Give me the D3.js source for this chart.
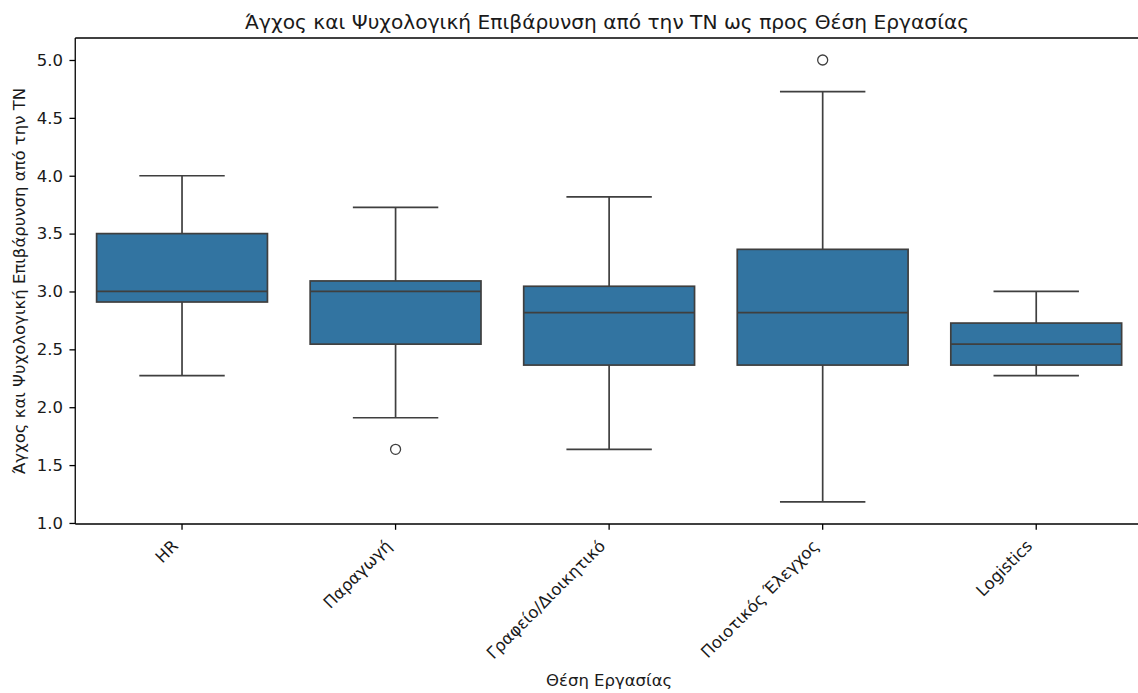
<!DOCTYPE html>
<html>
<head>
<meta charset="utf-8">
<script src="https://cdn.jsdelivr.net/npm/d3@7"></script>
<style>
  html, body { margin: 0; padding: 0; background: #fff; }
  svg text { font-family: "DejaVu Sans", sans-serif; fill: #1a1a1a; }
</style>
</head>
<body>
<svg id="chart" width="1138" height="693"></svg>
<script>
// Job positions and the five-number summaries of the stress score
const categories = ["HR", "Παραγωγή", "Γραφείο/Διοικητικό", "Ποιοτικός Έλεγχος", "Logistics"];
const whiskerLow = [2.273, 1.909, 1.636, 1.182, 2.273];
const q1 = [2.909, 2.545, 2.364, 2.364, 2.364];
const median = [3.0, 3.0, 2.818, 2.818, 2.545];
const q3 = [3.5, 3.091, 3.045, 3.364, 2.727];
const whiskerHigh = [4.0, 3.727, 3.818, 4.727, 3.0];
const outliers = [[], [1.636], [], [5.0], []];
const yTicks = [1.0, 1.5, 2.0, 2.5, 3.0, 3.5, 4.0, 4.5, 5.0];

const titleText = "Άγχος και Ψυχολογική Επιβάρυνση από την ΤΝ ως προς Θέση Εργασίας";
const xLabel = "Θέση Εργασίας";
const yLabel = "Άγχος και Ψυχολογική Επιβάρυνση από την ΤΝ";

(function () {
  const svg = d3.select("#chart");
  const mLeft = 75.25, mRight = 1143, mTop = 38, mBottom = 524;
  const fontSize = 16.5, tickLen = 5.8, lineW = 1.3;

  // each category gets one slot; boxes take 80% of it
  const x = d3.scaleBand().domain(categories).range([mLeft, mRight]).paddingInner(0.2).paddingOuter(0.1);
  const cx = c => x(c) + x.bandwidth() / 2;
  const boxW = x.bandwidth();

  const y = d3.scaleLinear().domain([0.991, 5.19]).range([mBottom, mTop]);

  const fill = "#3274a1";
  const edge = "#3f3f3f";

  const rows = categories.map((c, i) => ({
    c, lo: whiskerLow[i], q1: q1[i], med: median[i], q3: q3[i], hi: whiskerHigh[i], out: outliers[i]
  }));

  const g = svg.append("g");
  const seg = (x1, y1, x2, y2) => g.append("line")
    .attr("x1", x1).attr("y1", y1).attr("x2", x2).attr("y2", y2)
    .attr("stroke", edge).attr("stroke-width", 1.7);

  rows.forEach(r => {
    const xc = cx(r.c);
    const cap = boxW / 4;
    // whiskers and caps
    seg(xc, y(r.q3), xc, y(r.hi));
    seg(xc, y(r.q1), xc, y(r.lo));
    seg(xc - cap, y(r.hi), xc + cap, y(r.hi));
    seg(xc - cap, y(r.lo), xc + cap, y(r.lo));
    // box
    g.append("rect").attr("x", xc - boxW / 2).attr("width", boxW)
      .attr("y", y(r.q3)).attr("height", y(r.q1) - y(r.q3))
      .attr("fill", fill).attr("stroke", edge).attr("stroke-width", 1.7);
    // median
    seg(xc - boxW / 2, y(r.med), xc + boxW / 2, y(r.med));
    // outliers
    r.out.forEach(v => {
      g.append("circle").attr("cx", xc).attr("cy", y(v)).attr("r", 5)
        .attr("fill", "none").attr("stroke", edge).attr("stroke-width", 1.3);
    });
  });

  // frame
  const spine = svg.append("g").attr("stroke", "#000").attr("stroke-width", lineW);
  spine.append("line").attr("x1", mLeft).attr("x2", mRight).attr("y1", mTop).attr("y2", mTop);
  spine.append("line").attr("x1", mLeft).attr("x2", mRight).attr("y1", mBottom).attr("y2", mBottom);
  spine.append("line").attr("x1", mLeft).attr("x2", mLeft).attr("y1", mTop).attr("y2", mBottom);
  spine.append("line").attr("x1", mRight).attr("x2", mRight).attr("y1", mTop).attr("y2", mBottom);

  // y axis
  const yAxis = d3.axisLeft(y).tickValues(yTicks).tickFormat(d3.format(".1f")).tickSize(tickLen).tickPadding(6.5);
  const ya = svg.append("g").attr("transform", `translate(${mLeft},0)`).call(yAxis);
  ya.select(".domain").remove();
  ya.selectAll("text").style("font-size", fontSize + "px").style("font-family", "DejaVu Sans").attr("fill", "#1a1a1a");
  ya.selectAll("line").attr("stroke", "#000").attr("stroke-width", lineW);

  // x axis: ticks and labels rotated 45°, right end anchored under the tick
  const xAxis = d3.axisBottom(x).tickSize(tickLen).tickSizeOuter(0);
  const xa = svg.append("g").attr("transform", `translate(0,${mBottom})`).call(xAxis);
  xa.select(".domain").remove();
  xa.selectAll("line").attr("stroke", "#000").attr("stroke-width", lineW);
  xa.selectAll("text")
    .attr("y", 0).attr("dy", null)
    .attr("transform", "translate(-2.8,23) rotate(-45)")
    .attr("text-anchor", "end")
    .style("font-size", fontSize + "px").style("font-family", "DejaVu Sans").attr("fill", "#1a1a1a");

  // title and axis labels
  svg.append("text").attr("x", (mLeft + mRight) / 2 - 2).attr("y", 29).attr("text-anchor", "middle")
    .style("font-size", "20.2px").text(titleText);
  svg.append("text").attr("x", (mLeft + mRight) / 2).attr("y", 686).attr("text-anchor", "middle")
    .style("font-size", fontSize + "px").text(xLabel);
  svg.append("text").attr("transform", `translate(24.5,${(mTop + mBottom) / 2}) rotate(-90)`)
    .attr("text-anchor", "middle").style("font-size", fontSize + "px").text(yLabel);
})();
</script>
</body>
</html>
